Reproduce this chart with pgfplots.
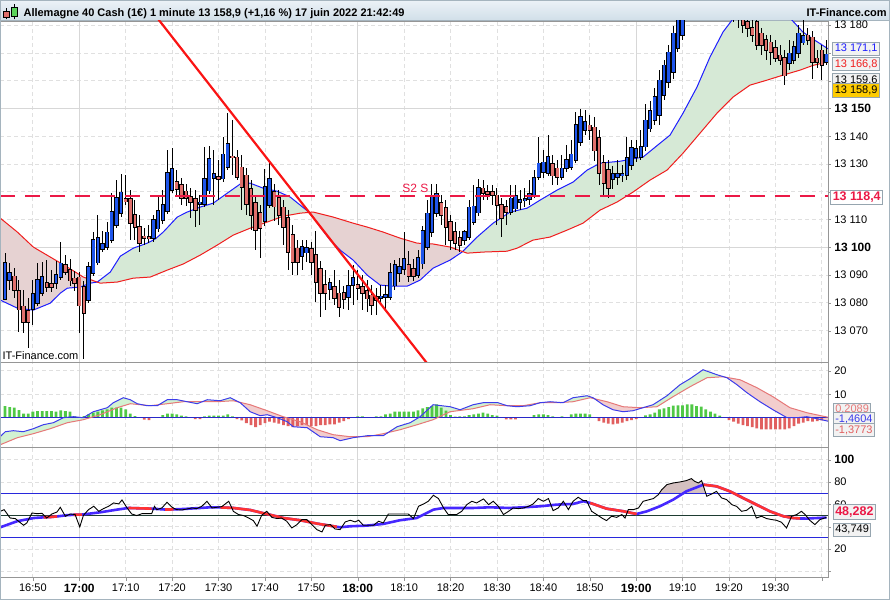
\documentclass[border=0pt]{standalone}
\usepackage{fontspec}
\setmainfont{Liberation Sans}
\usepackage{pgfplots}
\usepackage{pgfplotstable}
\pgfplotsset{compat=1.18}
\usepgfplotslibrary{fillbetween}

\definecolor{candleblue}{RGB}{30,85,235}
\definecolor{candlered}{RGB}{224,112,108}
\definecolor{emablue}{RGB}{30,30,255}
\definecolor{emared}{RGB}{240,30,30}
\definecolor{fillgreen}{RGB}{214,233,214}
\definecolor{fillpink}{RGB}{230,210,210}
\definecolor{gridc}{RGB}{224,224,224}
\definecolor{gridsolid}{RGB}{215,215,215}
\definecolor{framec}{RGB}{150,150,150}
\definecolor{s2red}{RGB}{235,25,70}
\definecolor{trend}{RGB}{250,20,20}
\definecolor{histgreen}{RGB}{80,200,70}
\definecolor{histred}{RGB}{225,95,95}
\definecolor{macdline}{RGB}{60,60,235}
\definecolor{macdsig}{RGB}{230,120,120}
\definecolor{macdgreen}{RGB}{210,242,210}
\definecolor{macdpink}{RGB}{242,205,205}
\definecolor{zeroblue}{RGB}{40,40,200}
\definecolor{rsiblue}{RGB}{40,40,220}
\definecolor{darkline}{RGB}{30,60,50}
\definecolor{maBlue}{RGB}{70,40,255}
\definecolor{maRed}{RGB}{255,50,50}
\definecolor{rsifill}{RGB}{212,192,192}
\definecolor{hdrtop}{RGB}{236,242,247}
\definecolor{hdrbot}{RGB}{208,222,232}
\definecolor{hdrline}{RGB}{165,180,190}
\definecolor{boxborder}{RGB}{150,165,175}
\definecolor{boxfill}{RGB}{242,242,242}
\definecolor{yellowlab}{RGB}{255,204,0}
\definecolor{icongreen}{RGB}{90,210,90}

\pgfplotstableread{
m o h l c
-16 13081.7 13097.9 13081.0 13094.7
-15 13088.2 13094.3 13084.6 13090.7
-10 13077.8 13088.2 13072.0 13083.2
-9 13079.9 13094.3 13078.8 13088.2
-8 13083.5 13094.7 13082.4 13089.3
-5 13087.1 13095.4 13085.3 13090.0
-4 13089.3 13101.9 13088.2 13094.3
2 13081.0 13094.7 13079.9 13092.9
3 13090.7 13105.5 13089.6 13102.6
4 13094.7 13111.6 13093.6 13103.7
5 13099.4 13106.2 13098.3 13101.2
6 13100.1 13109.1 13099.0 13105.5
7 13102.6 13119.5 13101.5 13112.7
8 13108.0 13124.2 13106.9 13117.7
9 13112.3 13126.4 13111.2 13119.9
16 13103.3 13111.6 13101.9 13109.8
17 13106.9 13118.8 13105.5 13113.4
18 13109.8 13120.6 13108.4 13115.2
19 13113.0 13135.0 13112.0 13126.7
20 13120.6 13135.7 13119.5 13128.2
26 13115.6 13118.8 13108.0 13116.3
27 13115.6 13136.1 13114.5 13124.9
28 13120.6 13136.8 13119.5 13132.1
29 13124.9 13135.0 13115.2 13126.4
31 13124.9 13139.7 13123.5 13133.6
32 13128.9 13148.3 13127.8 13137.2
40 13109.4 13128.5 13108.0 13121.7
41 13115.2 13131.4 13114.1 13124.6
48 13096.8 13102.6 13091.8 13100.1
49 13098.3 13102.6 13094.7 13100.1
54 13085.0 13088.9 13081.0 13087.1
58 13082.1 13091.8 13077.4 13086.4
59 13086.4 13093.6 13079.2 13088.9
65 13081.7 13086.4 13079.2 13082.4
66 13082.1 13086.4 13077.4 13082.8
67 13082.1 13094.3 13081.0 13090.7
68 13086.4 13095.4 13084.6 13094.0
69 13090.7 13096.1 13087.5 13092.9
70 13092.2 13105.5 13090.0 13095.8
73 13090.0 13099.0 13088.9 13096.1
74 13094.3 13108.0 13092.5 13106.2
75 13100.1 13117.0 13099.0 13112.3
76 13105.5 13123.1 13104.0 13118.8
77 13112.3 13123.1 13111.2 13119.2
83 13102.6 13106.2 13100.8 13105.5
84 13103.7 13117.0 13102.6 13114.5
85 13109.1 13122.4 13108.0 13114.8
86 13112.7 13124.9 13111.6 13121.7
93 13112.7 13122.4 13111.6 13117.7
94 13114.1 13122.4 13112.7 13118.8
95 13116.3 13120.6 13113.4 13117.0
96 13117.0 13121.3 13114.5 13117.7
97 13117.4 13124.2 13115.2 13119.2
98 13118.8 13127.8 13117.7 13124.9
99 13125.3 13139.7 13124.2 13130.3
100 13127.1 13135.0 13124.9 13130.7
101 13126.7 13140.4 13125.6 13132.5
104 13125.3 13133.2 13124.2 13128.5
105 13128.5 13136.8 13127.1 13131.4
106 13128.9 13138.6 13127.8 13133.6
107 13131.4 13148.7 13130.3 13144.0
108 13137.9 13150.1 13136.8 13146.9
109 13142.2 13149.4 13140.4 13145.1
115 13124.6 13129.6 13121.3 13126.4
116 13125.3 13131.4 13122.4 13126.4
117 13126.0 13129.6 13123.5 13126.7
118 13126.0 13139.7 13124.2 13132.1
119 13129.6 13138.6 13127.8 13135.7
120 13132.5 13138.6 13130.7 13135.4
121 13132.5 13142.2 13131.4 13136.4
122 13136.4 13151.9 13135.0 13145.8
123 13142.9 13153.0 13141.5 13149.4
124 13145.8 13157.3 13144.0 13154.1
125 13147.6 13163.8 13144.0 13160.2
126 13154.8 13167.4 13153.0 13165.6
127 13159.5 13172.8 13157.3 13170.3
128 13163.1 13180.0 13160.9 13177.1
129 13171.7 13185.4 13170.3 13181.8
130 13176.4 13189.0 13174.6 13184.7
131 13183.6 13192.6 13181.8 13190.8
132 13189.0 13196.0 13186.0 13194.0
133 13193.0 13199.0 13190.0 13197.0
136 13192.0 13198.0 13188.0 13196.0
137 13196.0 13202.0 13192.0 13199.0
140 13191.0 13196.0 13185.0 13193.0
153 13166.3 13174.6 13163.8 13169.9
154 13167.4 13174.6 13166.3 13172.1
155 13169.9 13180.0 13168.1 13177.1
156 13173.9 13181.8 13172.8 13176.4
161 13166.7 13174.6 13165.6 13169.6
}\bull

\pgfplotstableread{
m o h l c
-14 13089.6 13092.5 13081.7 13084.6
-13 13084.6 13088.2 13069.5 13077.8
-12 13078.8 13084.6 13069.1 13073.1
-11 13077.4 13081.7 13063.7 13073.1
-7 13087.1 13095.4 13083.9 13085.7
-6 13086.8 13091.8 13083.9 13085.7
-3 13093.6 13097.2 13090.0 13091.1
-2 13092.2 13096.1 13086.4 13088.2
-1 13088.9 13091.8 13084.6 13087.1
0 13089.3 13091.1 13069.1 13079.2
1 13085.7 13088.2 13060.1 13076.3
10 13117.7 13126.0 13115.2 13116.6
11 13117.4 13120.6 13102.6 13108.7
12 13111.6 13117.0 13102.6 13107.3
13 13107.3 13111.6 13098.3 13101.5
14 13104.0 13106.9 13100.8 13103.3
15 13103.7 13108.0 13101.5 13103.3
21 13123.8 13127.8 13118.8 13121.0
22 13122.4 13124.9 13115.2 13117.7
23 13120.2 13123.1 13115.2 13117.7
24 13118.4 13121.3 13110.5 13116.3
25 13117.4 13120.6 13107.3 13113.4
30 13125.6 13131.4 13117.0 13124.6
33 13132.8 13145.8 13126.0 13132.5
34 13132.5 13135.0 13124.2 13125.3
35 13128.9 13133.2 13113.4 13121.7
36 13126.0 13128.5 13111.6 13115.6
37 13121.0 13124.2 13106.2 13111.6
38 13115.9 13118.8 13099.0 13106.2
39 13112.3 13115.2 13096.1 13106.9
42 13120.2 13123.1 13109.8 13114.8
43 13117.7 13120.6 13108.0 13111.6
44 13114.5 13117.0 13100.8 13107.3
45 13110.5 13113.4 13091.8 13098.3
46 13104.4 13108.0 13090.0 13094.7
47 13099.7 13102.6 13090.0 13094.7
50 13099.4 13101.9 13090.0 13094.7
51 13097.2 13106.2 13080.3 13087.5
52 13092.2 13095.4 13074.9 13083.5
53 13086.4 13091.8 13077.4 13083.5
55 13085.7 13091.8 13079.2 13081.7
56 13083.5 13088.2 13074.9 13078.5
57 13083.5 13086.4 13078.1 13081.4
60 13086.4 13091.8 13081.0 13085.3
61 13085.7 13090.0 13077.4 13083.5
62 13084.6 13088.2 13076.7 13081.7
63 13082.8 13086.4 13075.6 13079.2
64 13082.1 13085.3 13075.6 13081.0
71 13093.6 13099.0 13087.5 13089.6
72 13092.2 13096.1 13088.2 13089.6
78 13115.9 13118.8 13108.0 13111.6
79 13114.1 13117.0 13100.8 13107.3
80 13109.1 13111.6 13099.0 13102.6
81 13105.5 13109.1 13099.0 13101.5
82 13103.3 13106.2 13098.3 13100.8
87 13121.3 13124.2 13117.0 13119.5
88 13119.9 13122.4 13117.0 13119.2
89 13119.9 13122.4 13115.2 13118.8
90 13118.8 13121.3 13108.0 13115.2
91 13115.2 13117.7 13103.7 13110.5
92 13114.5 13117.0 13108.0 13112.7
102 13130.3 13133.2 13122.4 13126.0
103 13128.5 13131.4 13122.4 13125.3
110 13144.0 13147.6 13138.6 13142.2
111 13143.3 13146.9 13131.4 13135.0
112 13139.3 13142.2 13122.4 13126.7
113 13130.3 13133.2 13118.8 13123.1
114 13127.8 13131.4 13117.7 13121.3
134 13197.0 13203.0 13192.0 13195.0
135 13195.0 13200.0 13190.0 13192.0
138 13199.0 13203.0 13193.0 13195.0
139 13195.0 13199.0 13188.0 13191.0
141 13193.0 13195.0 13181.1 13186.0
142 13188.0 13192.0 13178.9 13183.0
143 13181.8 13186.0 13177.5 13180.0
144 13181.1 13183.0 13175.7 13178.9
145 13179.0 13182.0 13174.0 13176.4
146 13181.1 13182.0 13171.0 13172.8
147 13177.1 13178.9 13169.2 13172.8
148 13174.6 13176.4 13167.4 13171.0
149 13173.9 13176.4 13165.6 13170.3
150 13171.7 13174.6 13166.7 13168.1
151 13169.2 13172.8 13165.6 13167.4
152 13168.5 13171.0 13158.4 13162.0
157 13176.4 13178.9 13172.8 13174.6
158 13175.7 13178.2 13160.9 13166.7
159 13168.1 13171.0 13164.5 13166.7
160 13171.0 13172.8 13160.2 13165.6
}\bear

\pgfplotstableread{
m p
-17.01 13081.0
-13.35 13078.1
-9.91 13077.4
-6.25 13079.9
-4.09 13083.5
-2.58 13085.3
0.22 13085.7
2.37 13087.1
3.88 13087.5
6.68 13091.1
8.83 13096.8
11.63 13099.7
14.65 13101.5
16.37 13103.0
18.09 13105.5
21.11 13110.9
23.26 13112.7
26.06 13114.5
28.86 13115.9
31.88 13119.5
34.68 13122.8
36.83 13123.1
39.63 13121.3
42.65 13120.2
45.45 13118.1
47.60 13115.2
49.75 13112.3
51.91 13107.3
54.06 13102.6
56.21 13099.0
59.01 13095.4
62.03 13090.0
64.83 13086.4
67.63 13086.0
70.64 13086.0
73.44 13088.2
76.24 13092.5
79.90 13095.4
82.49 13098.3
85.72 13103.7
89.17 13108.7
92.83 13112.7
96.49 13114.1
99.29 13117.0
102.95 13120.6
106.40 13123.5
109.42 13127.8
112.22 13130.3
116.52 13131.0
121.47 13132.5
125.14 13137.5
127.29 13140.4
130.09 13148.3
133.10 13157.7
135.90 13168.5
138.70 13177.5
140.64 13181.8
142.37 13186.1
146.68 13189.0
150.98 13186.1
153.57 13181.8
155.93 13177.5
158.09 13175.0
161.32 13171.5
}\emab

\pgfplotstableread{
m p
-17.01 13110.5
-13.35 13105.5
-9.91 13100.1
-6.25 13096.5
-2.58 13092.9
0.86 13089.3
4.52 13087.1
8.18 13087.5
11.63 13088.9
15.29 13089.3
18.95 13091.8
22.40 13094.0
26.06 13097.2
29.72 13100.8
33.17 13104.4
36.83 13106.9
40.49 13109.1
43.94 13111.2
47.60 13112.3
50.40 13112.7
54.71 13110.9
59.01 13108.7
62.03 13107.3
65.48 13105.5
69.14 13103.3
72.80 13101.5
76.24 13101.2
79.90 13100.1
83.57 13097.9
87.01 13098.3
92.18 13098.6
94.34 13099.7
97.78 13102.6
101.44 13103.7
105.11 13106.2
108.55 13108.7
112.22 13113.4
115.87 13116.3
119.32 13119.9
122.98 13124.2
126.64 13127.8
130.09 13133.9
133.75 13141.1
137.41 13148.3
140.86 13154.1
144.52 13158.4
148.18 13160.2
151.63 13162.0
155.29 13163.8
158.09 13165.5
161.32 13166.8
}\emar

\pgfplotstableread{
m v
-17.0 -7.96
-15.94 -5.96
-14.21 -5.53
-12.06 -5.96
-9.91 -4.68
-7.75 -2.98
-5.60 -2.13
-3.45 0
-1.29 0.43
0.86 0
3.02 2.55
6.03 4.26
7.32 6.38
9.48 8.51
10.98 7.66
12.49 5.96
14.65 5.11
16.80 5.11
18.95 7.66
21.11 7.66
23.26 6.81
25.41 5.96
27.57 7.66
30.37 7.23
32.52 8.51
34.68 6.38
36.83 2.55
38.98 0.85
40.49 1.28
42.65 0
44.80 -1.70
46.09 -3.83
49.11 -4.26
51.91 -8.09
54.71 -8.51
56.21 -9.79
59.01 -8.51
62.03 -7.66
65.48 -7.66
68.49 -3.83
71.29 -2.13
73.44 0.43
76.24 5.53
79.90 4.68
82.06 3.40
84.86 5.53
87.01 6.38
90.24 6.38
92.18 5.11
94.34 4.68
97.14 5.11
99.29 6.38
101.44 6.81
104.24 6.38
106.40 8.51
109.42 9.36
110.70 8.51
112.86 5.53
115.01 3.40
117.17 2.55
119.32 2.98
121.47 4.26
123.63 5.53
126.64 9.36
129.44 14.04
131.60 16.60
134.40 20.43
137.41 18.30
139.56 17.02
141.72 14.04
143.87 10.64
146.67 6.81
149.47 3.40
152.49 0
154.64 0
156.79 0.43
158.95 -0.43
161.32 -1.46
}\macdb

\pgfplotstableread{
m v
-17.0 -11.49
-13.35 -8.51
-9.91 -6.81
-6.25 -4.68
-2.58 -2.13
0.86 -0.85
4.52 1.28
8.18 4.26
10.98 5.96
15.29 5.11
18.95 5.96
22.40 6.81
26.06 6.81
29.72 6.81
33.17 7.23
36.83 5.53
40.49 2.98
43.94 0.43
47.60 -1.70
51.26 -5.11
54.71 -7.23
58.37 -8.09
62.03 -8.09
65.48 -6.81
69.14 -5.11
72.80 -2.98
76.24 -0.85
79.90 2.55
84.86 3.83
88.52 5.53
92.18 5.11
95.63 5.11
99.29 6.38
102.95 6.38
106.40 6.81
110.06 8.51
113.72 6.81
117.17 4.68
120.83 4.26
124.49 4.68
127.94 8.94
131.60 13.19
135.26 17.02
138.70 17.45
142.37 16.17
146.03 12.77
149.47 8.94
153.14 4.26
156.79 2.13
161.32 0.21
}\macds

\pgfplotstableread{
m h
-16 4.96
-15 4.54
-14 4.26
-13 3.26
-12 1.70
-11 1.70
-10 2.55
-9 2.84
-8 2.84
-7 2.84
-6 2.84
-5 2.55
-4 3.12
-3 2.84
-2 2.55
-1 0.57
0 0.28
1 0.71
2 1.42
3 2.13
4 2.55
5 3.12
6 3.55
7 4.26
8 4.26
9 4.26
10 3.55
11 1.70
12 0.71
13 0
14 -0.85
15 -0.99
16 0
17 0
18 1.13
19 1.70
20 1.70
21 1.42
22 0.85
23 0.57
24 0
25 -0.57
26 -0.57
27 0.57
28 0.85
29 0.85
30 0.85
31 0.85
32 1.42
33 0.57
34 -0.57
35 -1.13
36 -2.27
37 -3.12
38 -3.97
39 -3.12
40 -2.27
41 -1.70
42 -2.13
43 -2.55
44 -3.12
45 -3.55
46 -3.97
47 -3.55
48 -3.12
49 -3.12
50 -3.55
51 -3.55
52 -3.12
53 -3.12
54 -2.84
55 -2.84
56 -2.13
57 -1.42
58 -0.57
59 0
60 0.57
61 0.57
62 0
63 0
64 0.57
65 0.57
66 1.42
67 1.70
68 2.55
69 2.55
70 2.55
71 2.55
72 2.55
73 3.12
74 3.97
75 4.54
76 4.96
77 5.67
78 4.26
79 3.00
80 1.13
81 0.43
82 0.57
83 0.57
84 1.13
85 1.42
86 1.70
87 2.13
88 1.70
89 1.13
90 0.85
91 0
92 -0.71
93 -0.71
94 -0.71
95 0
96 0
97 0
98 1.13
99 1.42
100 1.42
101 1.13
102 0.57
103 0
104 0.57
105 0
106 1.42
107 1.70
108 1.70
109 1.70
110 1.42
111 0
112 -1.42
113 -2.13
114 -2.55
115 -2.84
116 -2.55
117 -2.13
118 -1.42
119 -0.99
120 -0.57
121 0
122 0.99
123 1.42
124 2.13
125 3.55
126 3.97
127 4.54
128 5.11
129 5.25
130 5.25
131 5.67
132 5.67
133 4.96
134 4.68
135 3.55
136 2.55
137 1.70
138 0.85
139 0
140 -0.99
141 -1.70
142 -2.55
143 -3.12
144 -3.55
145 -3.97
146 -4.54
147 -4.96
148 -4.96
149 -4.96
150 -4.96
151 -4.96
152 -4.96
153 -4.54
154 -3.55
155 -2.55
156 -2.13
157 -1.42
158 -1.70
159 -1.42
160 -1.13
}\histo

\pgfplotstableread{
m v
-17.0 53.9
-16.2 55.4
-14.9 47.9
-13.8 47.4
-12.0 41.4
-11.3 43.5
-10.2 52.4
-9.1 51.8
-8.0 52.1
-7.0 47.9
-5.9 51.5
-4.8 53.3
-4.1 57.5
-3.0 49.5
-1.9 51.5
-0.9 51.0
0.1 39.9
0.9 50.4
2.0 55.4
3.1 58.4
4.2 53.9
5.2 56.3
6.3 58.4
7.4 61.4
8.5 60.5
9.2 64.1
10.3 56.9
11.3 51.5
12.4 50.1
13.5 51.8
14.6 51.8
15.6 51.8
16.2 58.4
16.7 55.4
17.8 56.9
18.9 62.0
20.0 57.5
21.0 55.4
22.1 55.1
23.2 56.0
24.3 56.9
25.3 56.3
26.4 58.4
27.5 62.9
28.6 56.9
29.6 57.5
30.7 58.1
32.2 62.9
33.2 53.9
34.3 51.0
35.4 50.1
36.5 47.9
37.5 45.6
38.3 40.5
39.3 50.4
40.4 53.9
41.5 48.5
42.6 47.4
43.6 47.9
44.7 45.0
45.8 39.0
46.9 42.0
48.0 46.5
49.0 46.5
50.1 42.0
51.2 37.5
52.3 35.4
53.0 41.4
54.1 42.0
55.1 38.1
56.2 37.5
57.3 44.4
58.4 45.9
59.4 44.4
60.2 45.9
61.2 41.4
62.3 41.4
63.4 41.4
64.5 45.0
65.5 43.5
66.6 51.5
67.7 51.5
68.8 51.5
69.8 51.5
70.9 51.5
72.0 47.4
73.1 58.4
74.2 60.5
75.2 62.9
76.3 68.3
77.4 65.3
78.5 56.9
79.5 51.0
81.3 51.0
82.4 53.9
83.5 59.9
84.6 62.9
85.6 61.4
87.1 65.0
88.2 59.9
89.2 62.9
90.3 58.4
91.4 51.0
92.5 53.9
93.5 56.9
94.6 56.3
95.7 56.9
96.8 58.4
97.8 60.5
98.9 65.3
100.0 62.9
101.1 65.3
102.1 54.5
103.2 56.9
104.3 62.9
105.4 55.4
106.4 62.9
107.5 66.5
108.6 63.5
109.3 63.5
110.4 53.9
111.5 51.0
112.6 47.9
113.6 45.6
114.7 49.5
115.8 48.5
116.9 51.0
117.6 47.9
118.3 55.4
119.4 55.4
120.5 56.9
121.5 62.9
122.6 64.1
123.7 65.3
124.8 68.9
125.5 73.3
126.6 77.8
128.0 79.3
129.4 80.2
130.8 81.4
131.9 83.2
132.6 80.8
133.4 79.3
134.1 81.4
135.2 67.4
136.3 69.5
137.3 71.8
138.4 65.9
139.5 64.4
140.6 59.9
141.6 58.4
142.7 53.9
143.8 54.8
144.9 58.4
145.9 47.9
147.0 49.5
148.1 47.4
149.2 46.5
150.2 45.9
151.3 44.1
152.4 39.0
153.5 49.5
154.6 51.0
155.6 53.9
156.4 51.0
157.4 45.9
158.5 42.0
159.6 46.5
161.0 48.5
}\rsi

\pgfplotstableread{
m v
-17.0 39.6
-13.4 45.0
-9.8 47.9
-7.7 48.5
-6.2 48.8
-4.8 49.3
-2.7 50.4
-1.2 50.8
0.6 51.0
4.5 53.0
8.1 55.4
10.6 56.9
13.0 56.6
15.6 56.3
18.5 55.5
20.3 55.6
22.5 56.0
26.1 56.9
28.2 57.5
30.4 57.4
33.2 56.9
36.8 55.1
40.4 51.5
44.0 47.9
47.6 45.9
51.2 42.9
54.8 40.5
55.5 40.0
56.2 39.6
58.4 40.5
62.0 41.1
65.5 42.6
69.1 45.9
72.7 47.9
76.3 55.4
78.5 56.9
81.3 56.9
84.9 56.9
88.5 57.5
92.5 56.9
95.7 57.5
99.3 58.4
102.9 59.9
106.4 60.5
108.6 62.9
110.1 61.4
113.6 56.3
117.3 53.9
120.1 51.5
122.3 53.9
125.1 58.4
128.0 64.4
130.8 71.8
134.5 77.8
137.3 76.3
140.2 71.8
143.0 65.9
145.9 59.9
148.8 53.9
151.7 49.5
153.8 47.9
155.3 47.5
156.7 47.4
161.0 48.3
}\rsima

\pgfplotsset{
  panel/.style={
    scale only axis, width=828pt,
    xmin=-17, xmax=161.3,
    axis line style={draw=framec},
    tick style={draw=framec},
    tick align=outside,
    major tick length=3pt,
    ytick pos=right, yticklabel pos=right,
    xtick={-10,0,...,160},
    grid=major,
    major grid style={draw=gridc, dash pattern=on 4pt off 3pt, line width=0.8pt},
    extra x ticks={0,60,120},
    extra x tick labels={},
    extra x tick style={major grid style={solid, draw=gridsolid, line width=0.8pt}},
    tick label style={font=\fontsize{11}{13}\selectfont, text=black},
    yticklabel style={anchor=west},
    scaled y ticks=false, scaled x ticks=false,
  },
  wick/.style={draw=none, mark=none, forget plot,
    error bars/.cd, y dir=both, y explicit, error mark=none,
    error bar style={draw=black, line width=1pt}},
  bodyout/.style={draw=none, mark=none, forget plot,
    error bars/.cd, y dir=both, y explicit, error mark=none,
    error bar style={draw=black, line width=4.4pt}},
  bodyin/.style={draw=none, mark=none, forget plot,
    error bars/.cd, y dir=both, y explicit, error mark=none,
    error bar style={draw=#1, line width=2.6pt}},
}

\tikzset{lbox/.style={draw=boxborder, fill=boxfill, line width=0.8pt, inner xsep=2pt, inner ysep=2pt, anchor=west, font=\fontsize{11}{13}\selectfont}}

\begin{document}
\begin{tikzpicture}
\begin{scope}[x=1pt,y=1pt]
\path (0,0) rectangle (890,600);
\shade[top color=hdrtop, bottom color=hdrbot] (0,579) rectangle (890,600);
\draw[hdrline] (0,579.5) -- (890,579.5);
\draw[black, line width=0.6pt] (6,580.7) -- (6,591.7);
\filldraw[fill=candlered, draw=black, line width=0.6pt] (3.3,582.7) rectangle (8.8,589);
\draw[black, line width=0.6pt] (13.9,580.7) -- (13.9,596);
\filldraw[fill=icongreen, draw=black, line width=0.6pt] (11.1,583.3) rectangle (16.7,592.7);
\node[anchor=base west, inner sep=0pt, font=\bfseries\fontsize{11}{13}\selectfont] at (23,583) {Allemagne 40 Cash (1€) 1 minute 13 158,9 (+1,16 \%) 17 juin 2022 21:42:49};
\node[anchor=base east, inner sep=0pt, font=\bfseries\fontsize{11}{13}\selectfont] at (887,583) {IT-Finance.com};
\end{scope}

\begin{axis}[panel, at={(0pt,238pt)}, anchor=south west, height=341pt,
  ymin=13058.8, ymax=13181.5,
  ytick={13070,13080,13090,13100,13110,13120,13130,13140,13150,13160,13170,13180},
  yticklabels={13 070,13 080,13 090,{\fontsize{12}{14}\selectfont\bfseries 13 100},13 110,,13 130,13 140,{\fontsize{12}{14}\selectfont\bfseries 13 150},,,13 180},
  extra y ticks={13100,13150}, extra y tick labels={},
  extra y tick style={major grid style={solid, draw=gridsolid, line width=0.8pt}},
  xticklabels={}, xtick style={draw=none}]
\addplot[draw=none, name path=ea, forget plot] table {\emab};
\addplot[draw=none, name path=eb, forget plot] table {\emar};
\addplot[fillpink, draw=none] fill between[of=ea and eb];
\addplot[fillgreen, draw=none] fill between[of=ea and eb, soft clip={domain=3.9:49.6}];
\addplot[fillgreen, draw=none] fill between[of=ea and eb, soft clip={domain=82.7:162}];
\addplot[emablue, line width=1pt] table {\emab};
\addplot[emared, line width=1pt] table {\emar};
\addplot[wick] table[x=m, y expr={(\thisrow{h}+\thisrow{l})/2}, y error expr={(\thisrow{h}-\thisrow{l})/2}] {\bull};
\addplot[wick] table[x=m, y expr={(\thisrow{h}+\thisrow{l})/2}, y error expr={(\thisrow{h}-\thisrow{l})/2}] {\bear};
\addplot[bodyout] table[x=m, y expr={(\thisrow{o}+\thisrow{c})/2}, y error expr={abs(\thisrow{c}-\thisrow{o})/2+0.3}] {\bull};
\addplot[bodyout] table[x=m, y expr={(\thisrow{o}+\thisrow{c})/2}, y error expr={abs(\thisrow{c}-\thisrow{o})/2+0.3}] {\bear};
\addplot[bodyin=candleblue] table[x=m, y expr={(\thisrow{o}+\thisrow{c})/2}, y error expr={abs(\thisrow{c}-\thisrow{o})/2}] {\bull};
\addplot[bodyin=candlered] table[x=m, y expr={(\thisrow{o}+\thisrow{c})/2}, y error expr={abs(\thisrow{c}-\thisrow{o})/2}] {\bear};
\addplot[s2red, line width=2.4pt, dash pattern=on 15pt off 10pt] coordinates {(-17,13118.4) (161.3,13118.4)};
\addplot[trend, line width=2.2pt] coordinates {(14,13188.6) (78,13051.7)};
\node[text=s2red, inner sep=0pt, font=\fontsize{12}{14}\selectfont] at (axis cs:72.4,13121.2) {S2 S};
\end{axis}

\begin{axis}[panel, at={(0pt,152pt)}, anchor=south west, height=86pt,
  ymin=-12.77, ymax=23.83, ytick={10,20}, yticklabels={10,20},
  xticklabels={}, xtick style={draw=none}]
\addplot[draw=none, name path=mb, forget plot] table {\macdb};
\addplot[draw=none, name path=ms, forget plot] table {\macds};
\addplot[macdpink, draw=none] fill between[of=mb and ms];
\addplot[macdgreen, draw=none] fill between[of=mb and ms, soft clip={domain=-17:33.3}];
\addplot[macdgreen, draw=none] fill between[of=mb and ms, soft clip={domain=66.5:111.5}];
\addplot[macdgreen, draw=none] fill between[of=mb and ms, soft clip={domain=121.6:139}];
\addplot[ybar, bar width=2.8pt, bar shift=0pt, draw=none, fill=histgreen] table[x=m, y expr={max(\thisrow{h},0)}] {\histo};
\addplot[ybar, bar width=2.8pt, bar shift=0pt, draw=none, fill=histred] table[x=m, y expr={min(\thisrow{h},0)}] {\histo};
\addplot[zeroblue, line width=1pt] coordinates {(-17,0) (161.3,0)};
\addplot[macdsig, line width=1pt] table {\macds};
\addplot[macdline, line width=1pt] table {\macdb};
\end{axis}

\begin{axis}[panel, at={(0pt,22pt)}, anchor=south west, height=130pt,
  ymin=-5.5, ymax=110.9, ytick={0,20,40,60,80,100},
  yticklabels={,20,,60,80,{\fontsize{12}{14}\selectfont\bfseries 100}},
  xtick pos=bottom,
  xticklabels={16:50,{\fontsize{12}{14}\selectfont\bfseries 17:00},17:10,17:20,17:30,17:40,17:50,{\fontsize{12}{14}\selectfont\bfseries 18:00},18:10,18:20,18:30,18:40,18:50,{\fontsize{12}{14}\selectfont\bfseries 19:00},19:10,19:20,19:30,{}}]
\addplot[draw=none, name path=rs, forget plot] table {\rsi};
\addplot[draw=none, name path=lseventy, forget plot] coordinates {(-17,70) (161.3,70)};
\addplot[rsifill, draw=none] fill between[of=rs and lseventy, soft clip={domain=125:134.9}];
\addplot[rsiblue, line width=1pt] coordinates {(-17,70) (161.3,70)};
\addplot[rsiblue, line width=1pt] coordinates {(-17,30) (161.3,30)};
\addplot[darkline, line width=1pt] coordinates {(-17,50) (161.3,50)};
\addplot[maBlue, line width=2.6pt] table {\rsima};
\addplot[maRed, line width=2.6pt, restrict x to domain=-7.8:-4.7] table {\rsima};
\addplot[maRed, line width=2.6pt, restrict x to domain=-1.3:0.7] table {\rsima};
\addplot[maRed, line width=2.6pt, restrict x to domain=10.5:15.7] table {\rsima};
\addplot[maRed, line width=2.6pt, restrict x to domain=18.4:20.4] table {\rsima};
\addplot[maRed, line width=2.6pt, restrict x to domain=30.3:55.6] table {\rsima};
\addplot[maRed, line width=2.6pt, restrict x to domain=110.0:120.2] table {\rsima};
\addplot[maRed, line width=2.6pt, restrict x to domain=134.4:155.4] table {\rsima};
\addplot[black, line width=0.9pt] table {\rsi};
\end{axis}

\begin{scope}[x=1pt,y=1pt]
\node[anchor=base west, inner sep=0pt, font=\fontsize{11}{13}\selectfont] at (2,240.5) {IT-Finance.com};
\node[lbox, text=emablue] at (832.5,551.5) {13 171,1};
\node[lbox, text=emared] at (832.5,536) {13 166,8};
\node[lbox, text=black] at (832.5,520) {13 159,6};
\node[lbox, fill=yellowlab, text=black] at (832.5,509.5) {13 158,9};
\node[lbox, text=s2red, fill=white, font=\bfseries\fontsize{12.5}{14}\selectfont] at (830.5,402.5) {13 118,4};
\node[lbox, text=macdsig] at (833,190) {0,2089};
\node[lbox, text=macdline] at (833,180.5) {-1,4604};
\node[lbox, text=histred] at (833,169.5) {-1,3773};
\node[lbox, text=s2red, font=\bfseries\fontsize{12.5}{14}\selectfont] at (833,88) {48,282};
\node[lbox, text=black] at (833,70) {43,749};
\draw[hdrline, line width=1pt] (0.5,0.5) rectangle (889.5,599.5);
\end{scope}
\end{tikzpicture}
\end{document}
